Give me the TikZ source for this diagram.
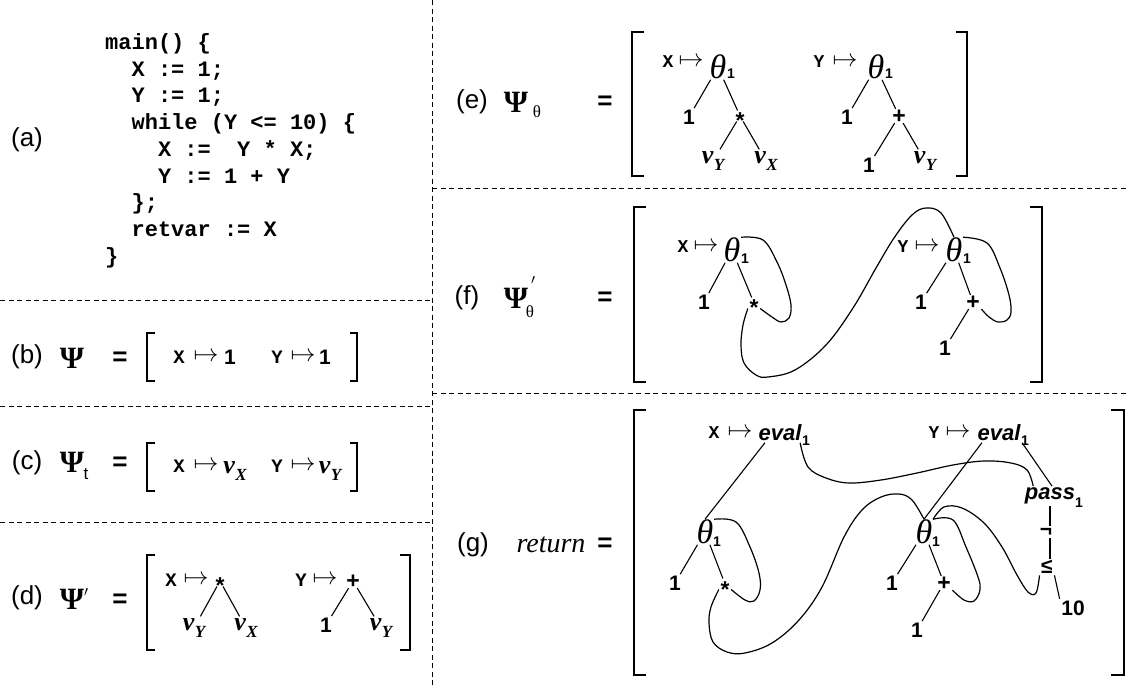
\documentclass[tikz,border=0pt]{standalone}
\usepackage{fontspec}
\setmainfont{Liberation Sans}
\newfontfamily\tnr{Liberation Serif}
\newfontfamily\cour{Liberation Mono}
\newcommand\fs[1]{\fontsize{#1}{#1}\selectfont}
\newcommand\vsb[1]{v\kern0.5pt\raisebox{-0.3em}{\fs{17}#1}}
\newcommand\stsym{\raisebox{-0.4em}[0.33em][0pt]{*}}
\newcommand\plsym{\raisebox{-0.11em}[0.47em][0pt]{+}}
\tikzset{
  sep/.style={dash pattern=on 5pt off 3.5pt, line width=0.9pt},
  brk/.style={line width=1.7pt},
  edg/.style={line width=1.1pt},
  crv/.style={line width=1.2pt},
  plbl/.style={font=\fs{26}, inner sep=0pt},
  psi/.style={font=\tnr\bfseries\fs{31}, inner sep=0pt},
  psub/.style={font=\tnr\fs{17}, inner sep=0pt},
  tsub/.style={font=\fs{17}, inner sep=0pt},
  prm/.style={font=\fs{14}, inner sep=0pt},
  eqs/.style={font=\bfseries\fs{26}, inner sep=0pt},
  code/.style={font=\cour\bfseries\fs{22}, anchor=base west, inner sep=0pt},
  vnm/.style={font=\cour\bfseries\fs{19}, inner sep=0pt},
  vnr/.style={font=\cour\bfseries\fs{18}, inner sep=0pt},
  mto/.style={font=\fs{26}, inner sep=0pt},
  num/.style={font=\bfseries\fs{21}, inner sep=1.5pt},
  opr/.style={font=\bfseries\fs{23}, inner sep=1.5pt},
  tht/.style={font=\tnr\itshape\fs{34}, inner sep=0.5pt},
  sub/.style={font=\bfseries\fs{14}, inner sep=0pt},
  fnm/.style={font=\bfseries\itshape\fs{22}, inner sep=1.5pt},
  vv/.style={font=\tnr\bfseries\itshape\fs{26}, inner sep=1.5pt, anchor=base},
  ret/.style={font=\tnr\itshape\fs{28}, inner sep=0pt},
}
\begin{document}
\begin{tikzpicture}[x=1pt,y=-1pt]
\useasboundingbox (0,0) rectangle (1128,688);
\fill[white] (0,0) rectangle (1128,688);

% separators
\draw[sep] (432,0) -- (432,688);
\draw[sep] (0,300.5) -- (432,300.5);
\draw[sep] (0,406.5) -- (432,406.5);
\draw[sep] (0,522.5) -- (432,522.5);
\draw[sep] (432,188) -- (1128,188);
\draw[sep] (432,393.5) -- (1128,393.5);

% (a)
\node[plbl] (la) at (27,140) {(a)};
\node[code] (c1) at (105,49.5) {main() \{};
\node[code] (c2) at (131.4,76.2) {X := 1;};
\node[code] (c3) at (131.4,102.9) {Y := 1;};
\node[code] (c4) at (131.4,129.6) {while (Y <= 10) \{};
\node[code] (c5) at (157.8,156.3) {X :=\ \ Y * X;};
\node[code] (c6) at (157.8,183) {Y := 1 + Y};
\node[code] (c7) at (131.4,209.7) {\};};
\node[code] (c8) at (131.4,236.4) {retvar := X};
\node[code] (c9) at (105,263.1) {\}};

% (b)
\node[plbl] (lb) at (27,357) {(b)};
\node[psi] (bpsi) at (72,358) {Ψ};
\node[eqs] (beq) at (120,359) {=};
\draw[brk] (155,333) -- (147,333) -- (147,381) -- (155,381);
\draw[brk] (350,333) -- (357,333) -- (357,381) -- (350,381);
\node[vnm] (bx) at (179,357) {X};
\node[mto] (bm1) at (206,357) {$\mapsto$};
\node[num] (b1) at (230,357) {1};
\node[vnm] (by) at (277,357) {Y};
\node[mto] (bm2) at (303,357) {$\mapsto$};
\node[num] (b2) at (325,357) {1};

% (c)
\node[plbl] (lc) at (27,463) {(c)};
\node[psi] (cpsi) at (72,462) {Ψ};
\node[tsub] (ct) at (86,474) {t};
\node[eqs] (ceq) at (120,464) {=};
\draw[brk] (155,443) -- (147,443) -- (147,491) -- (155,491);
\draw[brk] (350,443) -- (357,443) -- (357,491) -- (350,491);
\node[vnm] (cx) at (179,466) {X};
\node[mto] (cm1) at (206,466) {$\mapsto$};
\node[vv] (cvx) at (235,473) {\vsb{X}};
\node[vnm] (cy) at (277,466) {Y};
\node[mto] (cm2) at (303,466) {$\mapsto$};
\node[vv] (cvy) at (330,473) {\vsb{Y}};

% (d)
\node[plbl] (ld) at (27,598) {(d)};
\node[psi] (dpsi) at (72,599) {Ψ};
\node[prm] (dpr) at (86,592) {$\prime$};
\node[eqs] (deq) at (120,601) {=};
\draw[brk] (155,555) -- (147,555) -- (147,650) -- (155,650);
\draw[brk] (400,555) -- (410,555) -- (410,650) -- (400,650);
\node[vnm] (dx) at (171,580) {X};
\node[mto] (dm1) at (196,580) {$\mapsto$};
\node[opr] (dst) at (220,581) {\stsym};
\node[vv] (dvy) at (194,630) {\vsb{Y}};
\node[vv] (dvx) at (246,630) {\vsb{X}};
\node[vnm] (dy) at (301,580) {Y};
\node[mto] (dm2) at (325,580) {$\mapsto$};
\node[opr] (dpl) at (353,581) {\plsym};
\node[num] (d1) at (326,625) {1};
\node[vv] (dvy2) at (381,630) {\vsb{Y}};
\draw[edg] (dst) -- (dvy);
\draw[edg] (dst) -- (dvx);
\draw[edg] (dpl) -- (d1);
\draw[edg] (dpl) -- (dvy2);

% (e)
\node[plbl] (le) at (472,102) {(e)};
\node[psi] (epsi) at (516,102) {Ψ};
\node[psub] (eth) at (537,112) {θ};
\node[eqs] (eeq) at (605,103) {=};
\draw[brk] (644,32) -- (632,32) -- (632,176) -- (644,176);
\draw[brk] (956,32) -- (967,32) -- (967,176) -- (956,176);
\node[vnr] (ex) at (668,62) {X};
\node[mto] (em1) at (691,62) {$\mapsto$};
\node[tht] (eth1) at (718,67) {θ};
\node[sub] (es1) at (731,74) {1};
\node[num] (e11) at (689,117) {1};
\node[opr] (est) at (740,116) {\stsym};
\node[vv] (evy) at (713,163) {\vsb{Y}};
\node[vv] (evx) at (766,163) {\vsb{X}};
\node[vnr] (ey) at (819,62) {Y};
\node[mto] (em2) at (845,62) {$\mapsto$};
\node[tht] (eth2) at (876,67) {θ};
\node[sub] (es2) at (889,74) {1};
\node[num] (e12) at (847,117) {1};
\node[opr] (epl) at (899,116) {\plsym};
\node[num] (e13) at (869,165) {1};
\node[vv] (evy2) at (925,163) {\vsb{Y}};
\draw[edg] (eth1) -- (e11);
\draw[edg] (eth1) -- (est);
\draw[edg] (est) -- (evy);
\draw[edg] (est) -- (evx);
\draw[edg] (eth2) -- (e12);
\draw[edg] (eth2) -- (epl);
\draw[edg] (epl) -- (e13);
\draw[edg] (epl) -- (evy2);

% (f)
\node[plbl] (lf) at (467,298) {(f)};
\node[psi] (fpsi) at (516,298) {Ψ};
\node[prm] (fpr) at (533,280) {$\prime$};
\node[psub] (fth) at (530,312) {θ};
\node[eqs] (feq) at (605,299) {=};
\draw[brk] (646,207) -- (634,207) -- (634,382) -- (646,382);
\draw[brk] (1030,207) -- (1042,207) -- (1042,382) -- (1030,382);
\node[vnr] (fx) at (683,247) {X};
\node[mto] (fm1) at (706,247) {$\mapsto$};
\node[tht] (fth1) at (732,250) {θ};
\node[sub] (fs1) at (745,259) {1};
\node[num] (f11) at (704,302) {1};
\node[opr] (fst) at (754,303) {\stsym};
\node[vnr] (fy) at (903,247) {Y};
\node[mto] (fm2) at (927,247) {$\mapsto$};
\node[tht] (fth2) at (954,250) {θ};
\node[sub] (fs2) at (967,259) {1};
\node[num] (f12) at (921,302) {1};
\node[opr] (fpl) at (973,302) {\plsym};
\node[num] (f13) at (945,348) {1};
\draw[edg] (fth1) -- (f11);
\draw[edg] (fth1) -- (fst);
\draw[edg] (fth2) -- (f12);
\draw[edg] (fth2) -- (fpl);
\draw[edg] (fpl) -- (f13);
\draw[crv] plot[smooth, tension=0.6] coordinates {(fth1.north east) (763,240) (777,262) (786,285) (791,305) (789,318) (781,322) (772,317) (fst.south east)};
\draw[crv] plot[smooth, tension=0.6] coordinates {(fst.south west) (743,325) (741,345) (744,363) (756,375) (768,377) (795,370) (826,345) (853,308) (876,268) (894,238) (912,215) (926,208) (941,213) (fth2.north)};
\draw[crv] plot[smooth, tension=0.6] coordinates {(fth2.north east) (987,243) (1000,268) (1009,295) (1011,312) (1007,320) (998,322) (989,317) (fpl.south east)};

% (g)
\node[plbl] (lg) at (473,545) {(g)};
\node[ret] (gret) at (551,545) {return};
\node[eqs] (geq) at (605,545) {=};
\draw[brk] (646,410) -- (634,410) -- (634,675) -- (646,675);
\draw[brk] (1111,410) -- (1124,410) -- (1124,675) -- (1111,675);
\node[vnr] (gx) at (714,433) {X};
\node[mto] (gm1) at (740,433) {$\mapsto$};
\node[fnm] (gevx) at (780,433) {eval};
\node[sub] (ges1) at (806,441) {1};
\node[vnr] (gy) at (934,433) {Y};
\node[mto] (gm2) at (958,433) {$\mapsto$};
\node[fnm] (gevy) at (999,433) {eval};
\node[sub] (ges2) at (1025,441) {1};
\node[tht] (gthl) at (705,532) {θ};
\node[sub] (gs3) at (717,542) {1};
\node[num] (g11) at (675,583) {1};
\node[opr] (gst) at (725,584) {\stsym};
\node[tht] (gthr) at (924,532) {θ};
\node[sub] (gs4) at (936,542) {1};
\node[num] (g12) at (892,583) {1};
\node[opr] (gpl) at (944,583) {\plsym};
\node[num] (g13) at (917,630) {1};
\node[fnm] (gpass) at (1050,496) {pass};
\node[sub] (gs5) at (1079,503) {1};
\node[num] (gnot) at (1046,532) {¬};
\node[num] (gle) at (1047,567) {≤};
\node[num] (g10) at (1073,608) {10};
\draw[edg] ([xshift=8pt]gevx.south west) -- (gthl.north);
\draw[edg] ([xshift=6pt]gevy.south west) -- (gthr.north);
\draw[edg] (gevy.south east) -- ([xshift=2pt]gpass.north);
\draw[edg] (gthl) -- (g11);
\draw[edg] (gthl) -- (gst);
\draw[edg] (gthr) -- (g12);
\draw[edg] (gthr) -- (gpl);
\draw[edg] (gpl) -- (g13);
\draw[edg] (gpass.south) -- (gpass.south |- gnot.north);
\draw[edg] (gnot.south -| gpass.south) -- (gle.north -| gpass.south);
\draw[edg] (gle.south east) -- (g10.north west);
\draw[crv] plot[smooth, tension=0.6] coordinates {(gthl.north east) (736,522) (750,547) (759,573) (760,590) (754,601) (745,600) (gst.south east)};
\draw[crv] plot[smooth, tension=0.6] coordinates {(gst.south west) (711,607) (709,623) (713,642) (727,652) (745,653) (772,643) (799,620) (822,587) (844,537) (862,510) (881,497) (899,494) (912,500) (gthr.north)};
\draw[crv] plot[smooth, tension=0.6] coordinates {(gthr.north east) (953,520) (966,547) (978,577) (980,590) (974,601) (964,600) (gpl.south east)};
\draw[crv] plot[smooth, tension=0.6] coordinates {(gthr.north east) (944,507) (962,508) (984,523) (1002,547) (1017,575) (1028,592) (1036,593) (gle.south west)};
\draw[crv] plot[smooth, tension=0.6] coordinates {([xshift=-3pt]gevx.south east) (808,467) (826,478) (849,483) (881,480) (917,473) (953,465) (984,461) (1011,463) (1027,470) ([xshift=10pt]gpass.north west)};
\end{tikzpicture}
\end{document}
